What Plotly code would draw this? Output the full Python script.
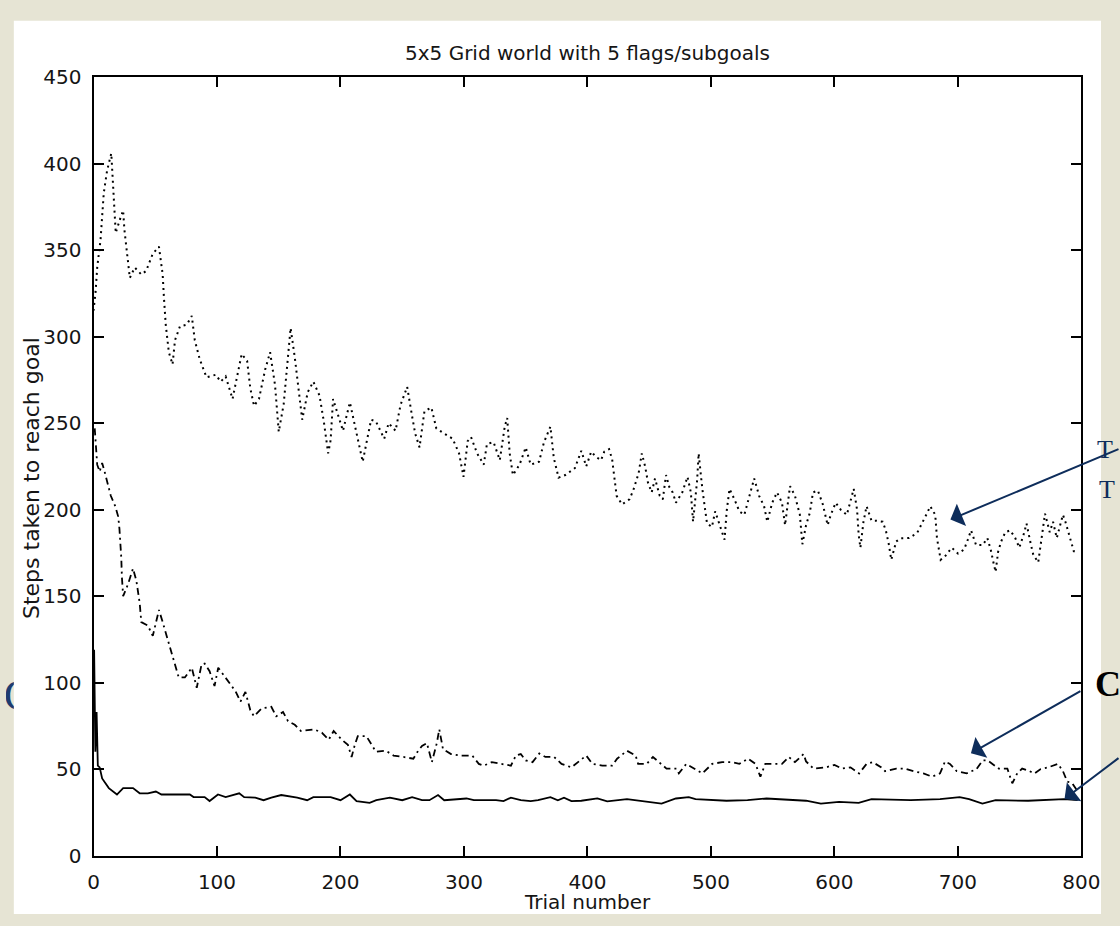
import plotly.graph_objects as go

W, H = 1120, 926

# ---------------- data ----------------
x_ticks = [0, 100, 200, 300, 400, 500, 600, 700, 800]
y_ticks = [0, 50, 100, 150, 200, 250, 300, 350, 400, 450]

dotted_trial = [0, 1.7, 3, 5.7, 8.3, 11, 14.4, 16.2, 18, 21.5, 24, 25, 27.6, 29.4, 33.4, 38.7, 42.6, 48, 53, 56,
                57, 58.5, 61, 64, 66, 70, 75.6, 79.6, 82, 86, 91.5, 99, 103, 107, 112.6, 116, 120, 124.4, 127, 130,
                134, 139, 143, 147, 150, 154, 156, 159.6, 163, 166.7, 169, 173.5, 178, 183, 186.5, 190, 192, 194, 198, 202,
                207.6, 212.7, 218, 221.7, 224.8, 228.7, 235.4, 239, 244.6, 248.6, 254, 258, 260.5, 264, 268, 273.6, 277.6, 284, 290.8, 296,
                299.6, 303, 305.7, 310.6, 316, 318.6, 324, 329, 333, 335, 337, 339.6, 345, 350, 354, 360.8, 364.8, 370, 372.7, 376.6,
                382, 389.8, 395, 399, 403, 407, 411, 413.6, 417.5, 420, 422, 423.6, 428, 434, 437, 441.4, 444, 446.7, 449, 452,
                454.7, 458.5, 461, 463.6, 466.3, 469, 471.6, 476.8, 481, 483.7, 485.5, 488.8, 490, 493, 496.8, 500.8, 503.4, 508.7, 511, 512.7,
                515, 519, 523, 527, 531, 535, 539, 543, 545.6, 549.6, 553.5, 557.5, 560, 564, 568, 572, 574, 577, 580, 582.6,
                586.6, 590.6, 594.5, 597, 601, 605, 610, 615.6, 618.3, 619.6, 621, 623.5, 626, 630, 634, 639, 641.6, 644, 646, 650,
                654, 660.5, 667, 671, 675, 677.6, 681.6, 683, 684.5, 686, 689.5, 695, 700, 705, 708, 710.6, 714.7, 720, 723.8, 726.5,
                729, 730.5, 732.5, 735, 738.4, 742.4, 746.4, 749.7, 753.6, 755.5, 759, 761, 765, 768.6, 770.5, 774.3, 777, 780, 785, 787,
                789.6, 793.8, 797]
dotted_steps = [315, 326, 340, 356, 383, 396, 406, 386, 360, 368, 373, 362, 345, 334, 340, 336, 338, 348, 352, 336,
                323, 307, 291, 284, 298, 306, 307, 312, 298, 287, 276.5, 278, 274, 277, 264, 277, 290, 286, 270, 260,
                264, 281, 291, 272, 245, 261, 277, 305, 288, 264, 252, 268, 274, 266, 251, 232.6, 240, 264, 255, 245.6,
                262, 245, 227.7, 241, 252, 251, 241, 250, 245.6, 260.5, 271, 254, 244, 236, 257, 259, 247, 244, 241, 232.6,
                219, 239.6, 242, 232.6, 226, 238, 239, 228.6, 248, 253, 232.6, 220, 226, 236, 226, 227.7, 239, 248, 230, 218.5,
                220, 224, 234, 225, 233.5, 230.5, 228.6, 233.5, 235, 229, 219, 208, 203, 206, 211, 221, 232.5, 225, 215.6, 210,
                218, 208, 206, 220, 213, 210, 204, 210, 219, 210, 193, 217, 232.5, 212, 192, 190, 199, 187.5, 182.7, 199,
                212, 206, 199, 197, 208, 218, 208, 202, 193, 204, 210, 204, 191, 213.6, 208, 197, 180, 191, 198, 210,
                211, 203, 191, 197, 204, 200, 197, 212, 200, 185.5, 178, 193, 202, 193.6, 193.6, 193, 188, 180, 171, 181.6,
                183.5, 183.6, 186.6, 192, 198, 202, 197, 183.6, 176, 171, 173, 178, 174.6, 177, 182.7, 188, 179.5, 179.5, 183.6, 177,
                168.6, 164, 175.6, 181.6, 187, 188, 183.6, 178, 186.6, 192, 180, 174, 169.5, 187, 197.7, 187, 193, 183.6, 197, 193,
                187, 176, 175]

dashdot_trial = [1, 2, 3, 5, 7, 9, 11, 14, 17.6, 20, 21, 22, 22.5, 23, 24, 28, 32, 34.7, 37.4, 38.7,
                 44, 48, 50.5, 53, 56, 58.5, 62.4, 65.6, 69, 74, 79.6, 83.6, 87.5, 90, 94, 98, 101, 105, 111, 115,
                 119, 123, 127, 130, 136, 144, 148, 153.5, 157.5, 163, 168, 178.6, 185, 190.5, 194.5, 201, 206, 209, 211.6, 214,
                 221, 226, 228.7, 236.7, 243, 251, 259, 263, 266, 270, 274, 278, 280, 283, 289.5, 297.4, 306.7, 312, 316, 322.5,
                 330, 338, 342, 346, 350, 355.5, 361, 366, 373, 379, 387, 392.5, 399, 404, 412, 420, 424, 432, 439, 441,
                 448, 453, 457, 464, 472, 474, 480, 487.5, 493, 501, 509, 517, 523, 530, 536, 540, 544, 550, 557.5, 563,
                 568, 575, 577, 583, 593, 600, 606, 613, 620, 626, 631, 638, 641, 650, 656.5, 664, 672, 679, 685.5, 689.5,
                 693.5, 699, 707, 715, 720, 724, 728, 733, 740, 744, 748, 752, 758, 762, 767, 773, 781, 785, 788.5, 792.5,
                 797]
dashdot_steps = [247, 236, 226, 222, 227, 222, 217, 208, 202, 196, 189, 180, 172, 161, 150, 157, 166, 159, 146, 135,
                 133, 127, 135, 142, 135, 129, 120, 111, 103, 103, 108.6, 97, 110.5, 111, 106.6, 98, 108.6, 104.7, 99, 95,
                 89, 94.6, 84, 80.5, 85, 86, 80.5, 83, 77.7, 75.6, 72, 73, 71, 67, 72, 67, 64, 57, 64, 69,
                 69, 63.4, 60, 60.6, 57.8, 57, 56, 60.7, 63.4, 65, 54, 65, 73, 61.5, 58.7, 57.8, 57.8, 53, 52, 54,
                 53, 52, 57.8, 58.7, 55, 54, 59, 57, 57, 53, 51, 54, 57.8, 53, 52, 52, 56, 60.6, 57.8, 53,
                 53, 57, 54.4, 50.3, 50.3, 47.5, 53, 50, 47.5, 53, 54, 54, 53, 56, 53, 45.6, 53, 53, 53, 57,
                 54, 58.7, 54.4, 50.3, 51, 52.4, 50.3, 51, 47.5, 53, 54, 51, 48.8, 50.3, 50.3, 48.8, 47.5, 45.6, 47.5, 54.4,
                 53, 48.8, 47.5, 50, 55, 55, 53, 50.3, 50.3, 41.8, 47.5, 50.3, 48.8, 47.5, 50, 51, 53, 48.8, 42.8, 41.8,
                 37]

solid_trial = [0.5, 1.5, 2.5, 3.5, 5, 7, 12.4, 19, 24, 32, 37.4, 44, 50.5, 55, 78, 81, 90, 94, 100.8, 107,
               118, 122, 131, 137.7, 144, 152, 165, 173, 178, 192, 200, 207.6, 213, 223.6, 229, 240, 250, 258, 266, 272,
               279, 284, 302, 308, 326, 332, 338, 346, 354, 360, 370, 376, 381, 387, 395, 408, 416, 432, 460, 471.6,
               482, 487.5, 512.6, 529.6, 545, 577, 589, 603.7, 619.6, 630, 661.8, 685.5, 701.4, 709, 719.8, 730.5, 756.8, 775.3, 785.9, 797]
solid_steps = [119, 60, 83, 52, 51, 44.6, 39, 35.3, 39, 39, 36, 36, 37, 35.3, 35.3, 33.8, 33.8, 31.5, 35.3, 33.8,
               36, 33.8, 33.5, 32, 33.5, 35, 33.5, 32, 33.8, 33.8, 32, 35.3, 31.5, 30.5, 32, 33.5, 32, 33.8, 32, 32,
               35, 32, 33, 32, 32, 31.5, 33.5, 32, 31.5, 32, 33.8, 32, 33.5, 31.5, 31.7, 33, 31.3, 32.6, 30, 33,
               33.8, 32.6, 31.7, 32, 33, 31.7, 30, 31, 30.5, 32.6, 32, 32.6, 33.8, 32.6, 30, 32, 31.7, 32, 32.6, 32]

title_text = "5x5 Grid world with 5 flags/subgoals"
x_title = "Trial number"
y_title = "Steps taken to reach goal"

# ---------------- styling ----------------
BEIGE = "#e6e4d4"
NAVY = "#0e2d5b"
TEXT = "#151515"
FONT = "DejaVu Sans"
SERIF = "Liberation Serif"

PL, PR, PT, PB = 89.5, 1100, 67, 866  # plot box in pixels


def fx(p):
    return p / W


def fy(p):
    return 1 - p / H


fig = go.Figure()

fig.add_trace(go.Scatter(x=dotted_trial, y=dotted_steps, mode="lines",
                         line=dict(color="black", width=2, dash="2px,4px"),
                         showlegend=False, hoverinfo="skip"))
fig.add_trace(go.Scatter(x=dashdot_trial, y=dashdot_steps, mode="lines",
                         line=dict(color="black", width=1.8, dash="7px,4px,2px,4px"),
                         showlegend=False, hoverinfo="skip"))
fig.add_trace(go.Scatter(x=solid_trial, y=solid_steps, mode="lines",
                         line=dict(color="black", width=1.8),
                         showlegend=False, hoverinfo="skip"))

# partial slide glyph at left edge, clipped by a tiny invisible subplot
fig.add_trace(go.Scatter(x=[-0.3], y=[0.5], mode="text", text=["C"],
                         textposition="middle right",
                         textfont=dict(family=SERIF, size=44, color="#1d3c70"),
                         xaxis="x2", yaxis="y2", cliponaxis=True,
                         showlegend=False, hoverinfo="skip"))

axis_common = dict(
    showgrid=False, zeroline=False, showline=True, linecolor="black", linewidth=2,
    mirror="ticks", ticks="inside", ticklen=10, tickwidth=1.8, tickcolor="black",
    tickfont=dict(family=FONT, size=20, color=TEXT),
)

fig.update_layout(
    width=W, height=H, autosize=False,
    margin=dict(l=0, r=0, t=0, b=0),
    paper_bgcolor=BEIGE,
    plot_bgcolor="rgba(0,0,0,0)",
    xaxis=dict(domain=[fx(PL), fx(PR)], range=[0, 800], tickvals=x_ticks,
               ticklabelstandoff=7, **axis_common),
    yaxis=dict(domain=[fy(PB), fy(PT)], range=[0, 450], tickvals=y_ticks,
               ticklabelstandoff=6, **axis_common),
    xaxis2=dict(domain=[0, fx(8)], range=[0, 1], visible=False, anchor="y2"),
    yaxis2=dict(domain=[fy(760), fy(650)], range=[0, 1], visible=False, anchor="x2"),
    shapes=[dict(type="rect", xref="paper", yref="paper",
                 x0=fx(8), x1=1, y0=0, y1=fy(9),
                 fillcolor="white", line=dict(width=0), layer="below")],
)

ann = []
ann.append(dict(xref="paper", yref="paper", x=fx(595), y=fy(42), text=title_text,
                showarrow=False, xanchor="center", yanchor="middle",
                font=dict(family=FONT, size=20, color=TEXT)))
ann.append(dict(xref="paper", yref="paper", x=fx(595), y=fy(914), text=x_title,
                showarrow=False, xanchor="center", yanchor="middle",
                font=dict(family=FONT, size=20, color=TEXT)))
ann.append(dict(xref="paper", yref="paper", x=fx(26), y=fy(478), text=y_title,
                showarrow=False, xanchor="center", yanchor="middle", textangle=-90,
                font=dict(family=FONT, size=22, color=TEXT)))

# arrows (tips in data coordinates, tails offset in pixels)
arrow_tips = [(693.9, 194.3, 175, -71), (710.5, 59.1, 111, -63), (786.3, 32.7, 56, -42)]
for tx, ty, ax, ay in arrow_tips:
    ann.append(dict(xref="x", yref="y", x=tx, y=ty, ax=ax, ay=ay, text="",
                    showarrow=True, arrowhead=1, arrowsize=2, arrowwidth=2,
                    arrowcolor=NAVY, standoff=0))

# partial slide glyphs at right edge
ann.append(dict(xref="paper", yref="paper", x=fx(1112), y=fy(690), text="<b>C</b>",
                showarrow=False, xanchor="left", yanchor="middle",
                font=dict(family=SERIF, size=36, color="black")))
ann.append(dict(xref="paper", yref="paper", x=fx(1114), y=fy(449), text="T",
                showarrow=False, xanchor="left", yanchor="middle",
                font=dict(family=SERIF, size=26, color=NAVY)))
ann.append(dict(xref="paper", yref="paper", x=fx(1116), y=fy(490), text="T",
                showarrow=False, xanchor="left", yanchor="middle",
                font=dict(family=SERIF, size=26, color=NAVY)))

fig.update_layout(annotations=ann)

fig.write_html(
    "out.html",
    config={"responsive": False},
    post_script=("document.documentElement.style.margin='0';"
                 "document.body.style.margin='0';"
                 "document.documentElement.style.overflow='hidden';"
                 "document.body.style.overflow='hidden';"),
)
